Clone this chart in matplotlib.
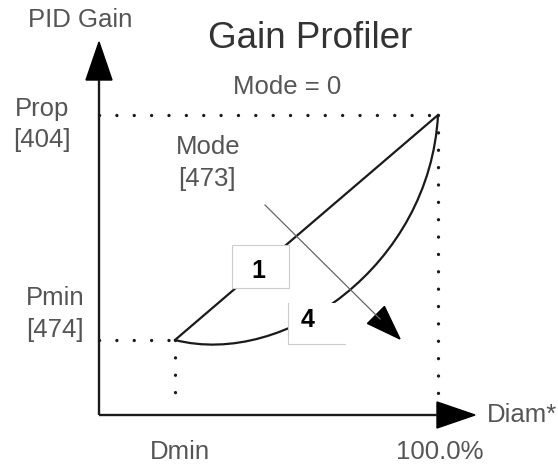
import matplotlib.pyplot as plt
from matplotlib.path import Path
from matplotlib.patches import PathPatch, Rectangle, Polygon

plt.rcParams['font.family'] = ['Liberation Sans', 'DejaVu Sans']

# diagram values (origin = axis corner)
d_min, d_max = 76, 339          # Dmin, 100.0%
p_min, p_prop = 75, 300         # Pmin [474], Prop [404]
x_end, y_end = 376, 373         # axis arrow tips

# mode 1: straight line, mode 4: curve (bezier control points)
curve_x = [d_min, 186, 331, d_max]
curve_y = [p_min, 47, 150, p_prop]

# mode arrow
mode_start = (166, 210)
mode_tip = (301, 76)

gray = '#555555'
dark = '#1a1a1a'
fs = 18.5

fig = plt.figure(figsize=(5.58, 4.65), dpi=100)
ax = fig.add_axes([0, 0, 1, 1])
ax.set_xlim(-99, 459)
ax.set_ylim(-50, 415)
ax.axis('off')

# axes with arrow heads
ax.plot([0, 0], [0, y_end - 38], color=dark, lw=1.7, solid_capstyle='butt')
ax.plot([0, x_end - 38], [0, 0], color=dark, lw=1.7, solid_capstyle='butt')
ax.add_patch(Polygon([[0, y_end], [-13, y_end - 38], [13, y_end - 38]], color='black'))
ax.add_patch(Polygon([[x_end, 0], [x_end - 38, 13], [x_end - 38, -13]], color='black'))

# dotted guides
dots = dict(color=dark, lw=2.4, linestyle=(0, (0.01, 5.2)), dash_capstyle='round')
ax.plot([0, d_max], [p_prop, p_prop], **dots)
ax.plot([d_max, d_max], [p_prop, 12], **dots)
ax.plot([0, d_min], [p_min, p_min], **dots)
ax.plot([d_min, d_min], [p_min, 12], **dots)

# profiles
ax.plot([d_min, d_max], [p_min, p_prop], color=dark, lw=1.6)
verts = list(zip(curve_x, curve_y))
ax.add_patch(PathPatch(Path(verts, [Path.MOVETO, Path.CURVE4, Path.CURVE4, Path.CURVE4]),
                       fill=False, edgecolor=dark, lw=1.6))

# mode arrow
ax.plot([mode_start[0], mode_tip[0] - 20], [mode_start[1], mode_tip[1] + 20], color='#666666', lw=0.9)
ax.arrow(mode_tip[0] - 24, mode_tip[1] + 24, 24, -24, width=0.1, head_width=24, head_length=34,
         length_includes_head=True, color='black')

# label boxes
ax.add_patch(Rectangle((133, 127), 57, 43, facecolor='white', edgecolor='#cccccc', lw=0.8, zorder=3))
ax.add_patch(Rectangle((189, 71), 57, 41, facecolor='white', edgecolor='none', zorder=3))
ax.plot([189, 189, 246], [112, 71, 71], color='#cccccc', lw=0.8, zorder=4)
ax.text(159, 144, '1', fontsize=18, fontweight='bold', ha='center', va='center', zorder=5)
ax.text(209, 95, '4', fontsize=18, fontweight='bold', ha='center', va='center', zorder=5)

# texts
ax.text(-19, 395, 'PID Gain', fontsize=fs, color=gray, ha='center', va='center')
ax.text(211, 377, 'Gain Profiler', fontsize=26.5, color='#333333', ha='center', va='center')
ax.text(188, 328, 'Mode = 0', fontsize=fs, color=gray, ha='center', va='center')
ax.text(-57, 306, 'Prop', fontsize=fs, color=gray, ha='center', va='center')
ax.text(-57, 275, '[404]', fontsize=fs, color=gray, ha='center', va='center')
ax.text(109, 268, 'Mode', fontsize=fs, color=gray, ha='center', va='center')
ax.text(108, 236, '[473]', fontsize=fs, color=gray, ha='center', va='center')
ax.text(-44, 117, 'Pmin', fontsize=fs, color=gray, ha='center', va='center')
ax.text(-44, 85, '[474]', fontsize=fs, color=gray, ha='center', va='center')
ax.text(81, -37, 'Dmin', fontsize=fs, color=gray, ha='center', va='center')
ax.text(341, -37, '100.0%', fontsize=fs, color=gray, ha='center', va='center')
ax.text(388, 0, 'Diam*', fontsize=fs, color=gray, ha='left', va='center')

fig.savefig('out.png', dpi=100)
